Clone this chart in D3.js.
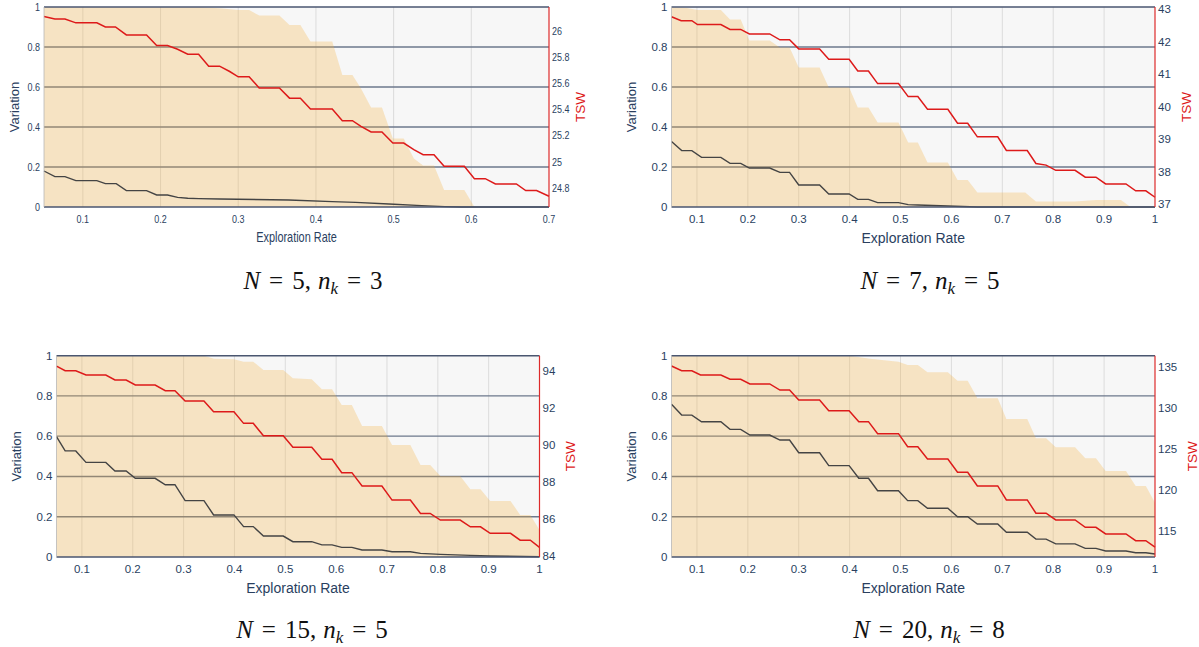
<!DOCTYPE html>
<html><head><meta charset="utf-8">
<script src="https://cdn.jsdelivr.net/npm/d3@7"></script>
<style>body{margin:0;background:#fff;} svg{display:block;}</style>
</head><body>
<svg id="c" width="1199" height="647"></svg>
<script>
// ---------- tick labels ----------
const yTicks = [0, 0.2, 0.4, 0.6, 0.8, 1];
const xTicks1 = [0.1, 0.2, 0.3, 0.4, 0.5, 0.6, 0.7];
const xTicks = [0.1, 0.2, 0.3, 0.4, 0.5, 0.6, 0.7, 0.8, 0.9, 1];
const p1_tswTicks = [24.8, 25, 25.2, 25.4, 25.6, 25.8, 26];
const p2_tswTicks = [37, 38, 39, 40, 41, 42, 43];
const p3_tswTicks = [84, 86, 88, 90, 92, 94];
const p4_tswTicks = [115, 120, 125, 130, 135];
const capN = [5, 7, 15, 20];
const capNk = [3, 5, 5, 8];

// ---------- panel 1 (N=5, nk=3) ----------
const p1_tswX = [0.05,0.064,0.077,0.091,0.118,0.129,0.142,0.156,0.182,0.195,0.209,0.222,0.235,0.249,0.262,0.276,0.289,0.300,0.314,0.327,0.353,0.366,0.380,0.393,0.421,0.434,0.447,0.458,0.471,0.485,0.499,0.513,0.526,0.538,0.552,0.565,0.591,0.604,0.618,0.631,0.658,0.670,0.684,0.7];
const p1_tsw = [26.107,26.089,26.089,26.059,26.059,26.028,26.028,25.967,25.967,25.886,25.886,25.858,25.820,25.820,25.729,25.729,25.688,25.648,25.648,25.562,25.562,25.485,25.485,25.402,25.402,25.313,25.313,25.270,25.227,25.227,25.143,25.143,25.092,25.054,25.054,24.965,24.965,24.871,24.871,24.831,24.831,24.780,24.780,24.737];
const p1_varX = [0.05,0.064,0.077,0.091,0.118,0.129,0.143,0.156,0.182,0.195,0.209,0.222,0.235,0.249,0.276,0.365,0.421,0.451,0.494,0.536,0.566,0.587,0.7];
const p1_var = [0.18,0.152,0.152,0.132,0.132,0.117,0.117,0.082,0.082,0.06,0.06,0.048,0.044,0.042,0.04,0.035,0.027,0.023,0.015,0.007,0.002,0,0];
const p1_bandX = [0.05,0.25,0.28,0.30,0.314,0.327,0.353,0.366,0.38,0.393,0.421,0.434,0.447,0.458,0.471,0.485,0.499,0.513,0.526,0.538,0.552,0.565,0.591,0.604,0.7];
const p1_band = [1,1,0.993,0.985,0.985,0.957,0.957,0.91,0.91,0.827,0.827,0.66,0.66,0.593,0.498,0.498,0.343,0.343,0.243,0.207,0.207,0.085,0.085,0,0];

// ---------- panel 2 (N=7, nk=5) ----------
const p2_tswX = [0.05,0.069,0.09,0.101,0.147,0.165,0.186,0.203,0.243,0.263,0.282,0.300,0.341,0.359,0.399,0.416,0.437,0.455,0.496,0.515,0.534,0.553,0.593,0.612,0.632,0.651,0.691,0.708,0.749,0.766,0.786,0.805,0.843,0.863,0.884,0.903,0.943,0.962,0.982,1.0];
const p2_tsw = [42.77,42.65,42.65,42.53,42.53,42.38,42.38,42.24,42.24,42.06,42.06,41.78,41.78,41.46,41.46,41.10,41.10,40.71,40.71,40.31,40.31,39.92,39.92,39.49,39.49,39.07,39.07,38.65,38.65,38.25,38.2,38.04,38.04,37.83,37.83,37.62,37.62,37.41,37.41,37.21];
const p2_varX = [0.05,0.07,0.09,0.109,0.147,0.165,0.186,0.203,0.243,0.263,0.282,0.300,0.341,0.359,0.399,0.416,0.437,0.455,0.496,0.515,0.534,0.593,0.651,1.0];
const p2_var = [0.327,0.282,0.282,0.248,0.248,0.218,0.218,0.195,0.195,0.173,0.173,0.11,0.11,0.065,0.065,0.038,0.038,0.022,0.022,0.012,0.01,0.005,0,0];
const p2_bandX = [0.05,0.08,0.101,0.147,0.165,0.186,0.203,0.243,0.263,0.282,0.300,0.341,0.359,0.399,0.416,0.437,0.455,0.496,0.515,0.534,0.553,0.593,0.612,0.632,0.651,0.745,0.766,0.843,0.884,0.933,0.952,1.0];
const p2_band = [1,0.995,0.985,0.985,0.938,0.938,0.832,0.832,0.798,0.798,0.698,0.698,0.598,0.598,0.497,0.497,0.423,0.423,0.322,0.322,0.223,0.223,0.135,0.135,0.073,0.073,0.027,0.027,0.035,0.035,0,0];

// ---------- panel 3 (N=15, nk=5) ----------
const p3_tswX = [0.05,0.067,0.088,0.108,0.147,0.165,0.187,0.205,0.244,0.264,0.283,0.303,0.34,0.359,0.399,0.418,0.437,0.457,0.496,0.515,0.552,0.572,0.592,0.611,0.631,0.651,0.69,0.71,0.746,0.766,0.785,0.805,0.844,0.864,0.884,0.903,0.943,0.962,0.982,1.0];
const p3_tsw = [94.25,94.0,94.0,93.77,93.77,93.5,93.5,93.23,93.23,92.92,92.92,92.36,92.36,91.79,91.79,91.16,91.16,90.49,90.49,89.87,89.87,89.22,89.22,88.5,88.5,87.78,87.78,87.02,87.02,86.3,86.3,85.94,85.94,85.58,85.58,85.23,85.23,84.86,84.86,84.47];
const p3_varX = [0.05,0.067,0.088,0.108,0.147,0.165,0.187,0.205,0.244,0.264,0.283,0.303,0.34,0.359,0.399,0.418,0.437,0.457,0.496,0.515,0.552,0.572,0.592,0.611,0.631,0.651,0.69,0.71,0.746,0.766,0.805,0.864,0.903,1.0];
const p3_var = [0.598,0.527,0.527,0.47,0.47,0.427,0.427,0.391,0.391,0.359,0.359,0.28,0.28,0.209,0.209,0.151,0.151,0.104,0.104,0.076,0.076,0.06,0.06,0.048,0.048,0.035,0.035,0.026,0.026,0.018,0.013,0.008,0.005,0.001];
const p3_bandX = [0.05,0.34,0.36,0.399,0.418,0.437,0.457,0.496,0.515,0.552,0.572,0.592,0.611,0.631,0.651,0.69,0.71,0.746,0.766,0.785,0.805,0.844,0.864,0.884,0.903,0.943,0.962,0.982,1.0];
const p3_band = [1,1,0.985,0.982,0.97,0.97,0.929,0.929,0.888,0.883,0.833,0.833,0.755,0.755,0.651,0.651,0.556,0.556,0.457,0.457,0.402,0.402,0.336,0.336,0.278,0.278,0.209,0.209,0.134];

// ---------- panel 4 (N=20, nk=8) ----------
const p4_tswX = [0.05,0.07,0.09,0.107,0.147,0.165,0.186,0.204,0.243,0.263,0.282,0.300,0.341,0.359,0.399,0.418,0.437,0.455,0.496,0.514,0.534,0.553,0.593,0.612,0.632,0.651,0.691,0.708,0.749,0.766,0.786,0.805,0.843,0.863,0.884,0.903,0.943,0.962,0.982,1.0];
const p4_tsw = [135.08,134.51,134.51,133.99,133.99,133.47,133.47,132.9,132.9,132.16,132.16,130.95,130.95,129.65,129.65,128.31,128.31,126.85,126.85,125.26,125.26,123.77,123.77,122.15,122.15,120.48,120.48,118.78,118.78,117.16,117.16,116.34,116.34,115.45,115.45,114.64,114.64,113.82,113.82,113.02];
const p4_varX = [0.05,0.07,0.09,0.109,0.147,0.165,0.186,0.204,0.243,0.263,0.282,0.300,0.341,0.359,0.399,0.418,0.437,0.455,0.496,0.514,0.534,0.553,0.593,0.612,0.632,0.651,0.691,0.708,0.749,0.766,0.786,0.805,0.843,0.863,0.884,0.903,0.943,0.962,0.982,1.0];
const p4_var = [0.759,0.705,0.705,0.672,0.672,0.634,0.634,0.606,0.606,0.581,0.581,0.518,0.518,0.454,0.454,0.391,0.391,0.329,0.329,0.28,0.28,0.242,0.242,0.2,0.2,0.164,0.164,0.123,0.123,0.089,0.089,0.065,0.065,0.043,0.043,0.03,0.03,0.021,0.021,0.015];
const p4_bandX = [0.05,0.4,0.44,0.496,0.514,0.534,0.553,0.593,0.612,0.632,0.651,0.691,0.708,0.749,0.766,0.786,0.805,0.843,0.863,0.884,0.903,0.943,0.962,0.982,1.0];
const p4_band = [1,1,0.985,0.97,0.954,0.954,0.918,0.918,0.876,0.876,0.789,0.789,0.685,0.685,0.59,0.59,0.545,0.545,0.49,0.49,0.427,0.427,0.353,0.353,0.27];

// ---------- layout ----------
const panels = [
  {box:[44,549,7,207], xDom:[0.05,0.7], xT:xTicks1, tDom:[24.655,26.18], tT:p1_tswTicks,
   band:[p1_bandX,p1_band], vr:[p1_varX,p1_var], ts:[p1_tswX,p1_tsw], sx:0.78, varDx:-30, tswDx:31, capX:313, capY:289},
  {box:[671.5,1155,7,207], xDom:[0.05,1], xT:xTicks, tDom:[36.91,43.07], tT:p2_tswTicks,
   band:[p2_bandX,p2_band], vr:[p2_varX,p2_var], ts:[p2_tswX,p2_tsw], sx:1, varDx:-40, tswDx:31, capX:930, capY:289},
  {box:[56.5,539.5,355.7,557], xDom:[0.05,1], xT:xTicks, tDom:[83.95,94.81], tT:p3_tswTicks,
   band:[p3_bandX,p3_band], vr:[p3_varX,p3_var], ts:[p3_tswX,p3_tsw], sx:1, varDx:-40, tswDx:31, capX:312, capY:638},
  {box:[671.5,1155,355.7,557], xDom:[0.05,1], xT:xTicks, tDom:[111.83,136.34], tT:p4_tswTicks,
   band:[p4_bandX,p4_band], vr:[p4_varX,p4_var], ts:[p4_tswX,p4_tsw], sx:1, varDx:-40, tswDx:37, capX:929, capY:638}
];

const svg = d3.select('#c');
const FONT = "'Liberation Sans', Arial, Helvetica, sans-serif";
const TXT = '#2a3f5f';

function label(g, x, y, str, o) {
  return g.append('text')
    .attr('transform', `translate(${x},${y}) rotate(${o.rot||0}) scale(${o.sx||1},1)`)
    .attr('font-family', FONT).attr('font-size', o.size)
    .attr('fill', o.fill || TXT).attr('text-anchor', o.anchor || 'middle')
    .attr('dominant-baseline', 'central').text(str);
}

panels.forEach((p, idx) => {
  const [x0, x1, y0, y1] = p.box;
  const g = svg.append('g');
  const x = d3.scaleLinear().domain(p.xDom).range([x0, x1]);
  const y = d3.scaleLinear().domain([0, 1]).range([y1, y0]);
  const t = d3.scaleLinear().domain(p.tDom).range([y1, y0]);

  g.append('rect').attr('x', x0).attr('y', y0).attr('width', x1 - x0).attr('height', y1 - y0).attr('fill', '#f7f7f7');

  g.selectAll('.vg').data(p.xT.filter(d => d < p.xDom[1])).join('line')
    .attr('x1', d => x(d)).attr('x2', d => x(d)).attr('y1', y0).attr('y2', y1)
    .attr('stroke', '#dcdcdc').attr('stroke-width', 1);
  g.selectAll('.hg').data(yTicks.filter(d => d > 0 && d < 1)).join('line')
    .attr('x1', x0).attr('x2', x1).attr('y1', d => y(d)).attr('y2', d => y(d))
    .attr('stroke', 'rgb(108,120,140)').attr('stroke-width', 1.3);

  g.append('path').datum(d3.zip(p.band[0], p.band[1]))
    .attr('d', d3.area().x(d => x(d[0])).y0(y(0)).y1(d => y(d[1])))
    .attr('fill', 'rgba(245,175,60,0.28)');

  g.append('path').datum(d3.zip(p.vr[0], p.vr[1]))
    .attr('d', d3.line().x(d => x(d[0])).y(d => y(d[1])))
    .attr('fill', 'none').attr('stroke', '#444').attr('stroke-width', 1.4);

  g.append('path').datum(d3.zip(p.ts[0], p.ts[1]))
    .attr('d', d3.line().x(d => x(d[0])).y(d => t(d[1])))
    .attr('fill', 'none').attr('stroke', '#dd1a1a').attr('stroke-width', 1.5);

  g.append('line').attr('x1', x0).attr('x2', x1).attr('y1', y0).attr('y2', y0).attr('stroke', '#4a5670').attr('stroke-width', 1.4);
  g.append('line').attr('x1', x0).attr('x2', x1).attr('y1', y1).attr('y2', y1).attr('stroke', '#4a5670').attr('stroke-width', 1.6);
  g.append('line').attr('x1', x0).attr('x2', x0).attr('y1', y0).attr('y2', y1).attr('stroke', '#b8b8b8').attr('stroke-width', 0.8);
  g.append('line').attr('x1', x1).attr('x2', x1).attr('y1', y0).attr('y2', y1).attr('stroke', '#dd2a2a').attr('stroke-width', 1.2);

  yTicks.forEach(d => label(g, x0 - 4, y(d), String(d), {size: 11.5, anchor: 'end', sx: p.sx}));
  p.xT.forEach(d => label(g, x(d), y1 + 12, String(d), {size: 11.5, sx: p.sx}));
  p.tT.forEach(d => label(g, x1 + 3, t(d), String(d), {size: 11.5, anchor: 'start', sx: p.sx}));

  label(g, (x0 + x1) / 2, y1 + 31, 'Exploration Rate', {size: 14, sx: p.sx});
  label(g, x0 + p.varDx, (y0 + y1) / 2, 'Variation', {size: 13, rot: -90});
  label(g, x1 + p.tswDx, (y0 + y1) / 2, 'TSW', {size: 13.5, rot: -90, fill: '#dd1a1a'});

  const cap = svg.append('text').attr('x', p.capX).attr('y', p.capY)
    .attr('text-anchor', 'middle').attr('font-family', "'Liberation Serif','DejaVu Serif',serif")
    .attr('font-size', 25).attr('fill', '#111');
  cap.append('tspan').attr('font-style', 'italic').text('N');
  cap.append('tspan').attr('dx', 9).text('=');
  cap.append('tspan').attr('dx', 9).text(capN[idx] + ',');
  cap.append('tspan').attr('dx', 7).attr('font-style', 'italic').text('n');
  cap.append('tspan').attr('font-style', 'italic').attr('font-size', 17).attr('dy', 5).text('k');
  cap.append('tspan').attr('dx', 9).attr('dy', -5).text('=');
  cap.append('tspan').attr('dx', 9).text(String(capNk[idx]));
});
</script>
</body></html>
